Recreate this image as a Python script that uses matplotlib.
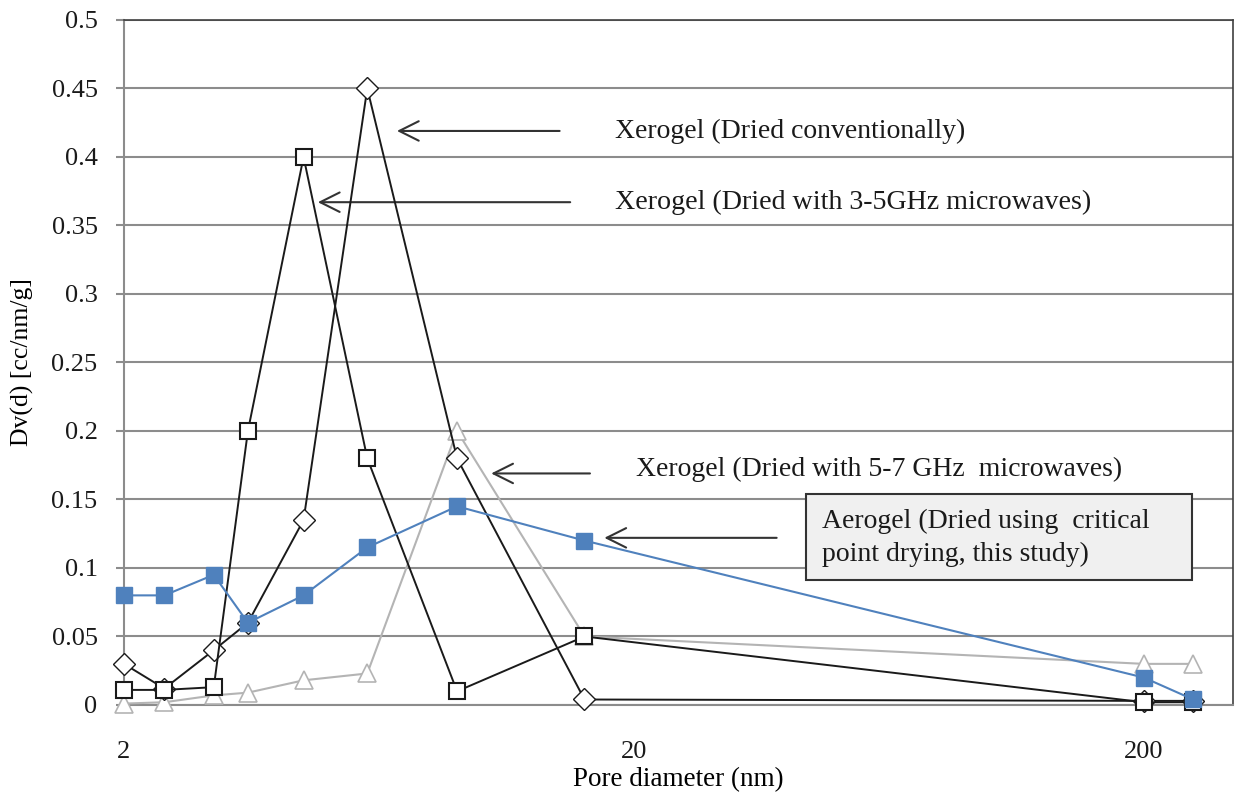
import numpy as np
import matplotlib
matplotlib.use('Agg')
import matplotlib.pyplot as plt
from matplotlib.patches import Rectangle

plt.rcParams['font.family'] = ['Liberation Serif', 'DejaVu Serif']

# pore diameter (nm) and Dv(d) values
diameter = [2, 2.4, 3, 3.5, 4.5, 6, 9, 16, 200, 250]
xero_conv = [0.03, 0.012, 0.04, 0.06, 0.135, 0.45, 0.18, 0.004, 0.003, 0.003]
xero_35ghz = [0.011, 0.011, 0.013, 0.2, 0.4, 0.18, 0.01, 0.05, 0.002, 0.002]
xero_57ghz = [0.001, 0.002, 0.007, 0.009, 0.018, 0.023, 0.2, 0.05, 0.03, 0.03]
aerogel = [0.08, 0.08, 0.095, 0.06, 0.08, 0.115, 0.145, 0.12, 0.02, 0.004]

yticks = [0, 0.05, 0.1, 0.15, 0.2, 0.25, 0.3, 0.35, 0.4, 0.45, 0.5]
ytick_labels = ['0', '0.05', '0.1', '0.15', '0.2', '0.25', '0.3', '0.35', '0.4', '0.45', '0.5']
xticks = [2, 20, 200]
xtick_labels = ['2', '20', '200']

fig = plt.figure(figsize=(12.36, 7.93), dpi=100)
ax = fig.add_axes([0.1003, 0.111, 0.8972, 0.8638])

ax.plot(diameter, xero_57ghz, color='#b4b4b4', lw=1.5, marker='^', ms=13,
        mfc='white', mec='#b4b4b4', mew=1.2, zorder=3, clip_on=False)
ax.plot(diameter, xero_conv, color='#1a1a1a', lw=1.4, marker='D', ms=11.5,
        mfc='white', mec='#1a1a1a', mew=1.0, zorder=4, clip_on=False)
ax.plot(diameter, xero_35ghz, color='#1a1a1a', lw=1.4, marker='s', ms=12,
        mfc='white', mec='#1a1a1a', mew=1.5, zorder=5, clip_on=False)
ax.plot(diameter, aerogel, color='#4f81bd', lw=1.5, marker='s', ms=12,
        mfc='#4f81bd', mec='#4f81bd', zorder=6, clip_on=False)

ax.set_xscale('log')
ax.set_xlim(2, 299)
ax.set_ylim(0, 0.5)
ax.set_xticks(xticks)
ax.set_xticklabels(xtick_labels)
ax.xaxis.set_minor_locator(matplotlib.ticker.NullLocator())
ax.set_yticks(yticks)
ax.set_yticklabels(ytick_labels)

ax.yaxis.grid(True, color='#8c8c8c', lw=1.5)
ax.set_axisbelow(True)
ax.tick_params(axis='y', length=6, width=1.5, color='#8c8c8c', pad=13,
               labelsize=19, labelcolor='#1a1a1a')
ax.tick_params(axis='x', length=0, pad=26, labelsize=19, labelcolor='#1a1a1a')

for side in ['left', 'bottom']:
    ax.spines[side].set_color('#8c8c8c')
    ax.spines[side].set_linewidth(1.5)
for side in ['top', 'right']:
    ax.spines[side].set_color('#404040')
    ax.spines[side].set_linewidth(1.2)

ax.set_xlabel('Pore diameter (nm)', fontsize=19.5, labelpad=3)
ax.set_ylabel('Dv(d) [cc/nm/g]', fontsize=18.5)
ax.yaxis.set_label_coords(-0.081, 0.5)

arrow = dict(arrowstyle='->,head_length=0.7,head_width=0.35', color='#333333',
             lw=1.5, mutation_scale=20, shrinkA=0, shrinkB=0)
ax.annotate('', xy=(6.86, 0.419), xytext=(14.3, 0.419), arrowprops=arrow)
ax.annotate('', xy=(4.8, 0.367), xytext=(15.0, 0.367), arrowprops=arrow)
ax.annotate('', xy=(10.5, 0.169), xytext=(16.4, 0.169), arrowprops=arrow)
ax.annotate('', xy=(17.5, 0.122), xytext=(38.1, 0.122), arrowprops=arrow)

ax.text(18.4, 0.419, 'Xerogel (Dried conventionally)', fontsize=20,
        va='center', ha='left', color='#1a1a1a')
ax.text(18.4, 0.367, 'Xerogel (Dried with 3-5GHz microwaves)', fontsize=20.2,
        va='center', ha='left', color='#1a1a1a')
ax.text(20.2, 0.172, 'Xerogel (Dried with 5-7 GHz  microwaves)', fontsize=20,
        va='center', ha='left', color='#1a1a1a')

ax.add_patch(Rectangle((0.615, 0.1825), 0.348, 0.1255, transform=ax.transAxes,
                       fc='#f0f0f0', ec='#333333', lw=1.5, zorder=7))
ax.text(0.6294, 0.2438, 'Aerogel (Dried using  critical\npoint drying, this study)',
        transform=ax.transAxes, fontsize=20, va='center', ha='left',
        color='#1a1a1a', linespacing=1.42, zorder=8)

plt.savefig('out.png', dpi=100)
